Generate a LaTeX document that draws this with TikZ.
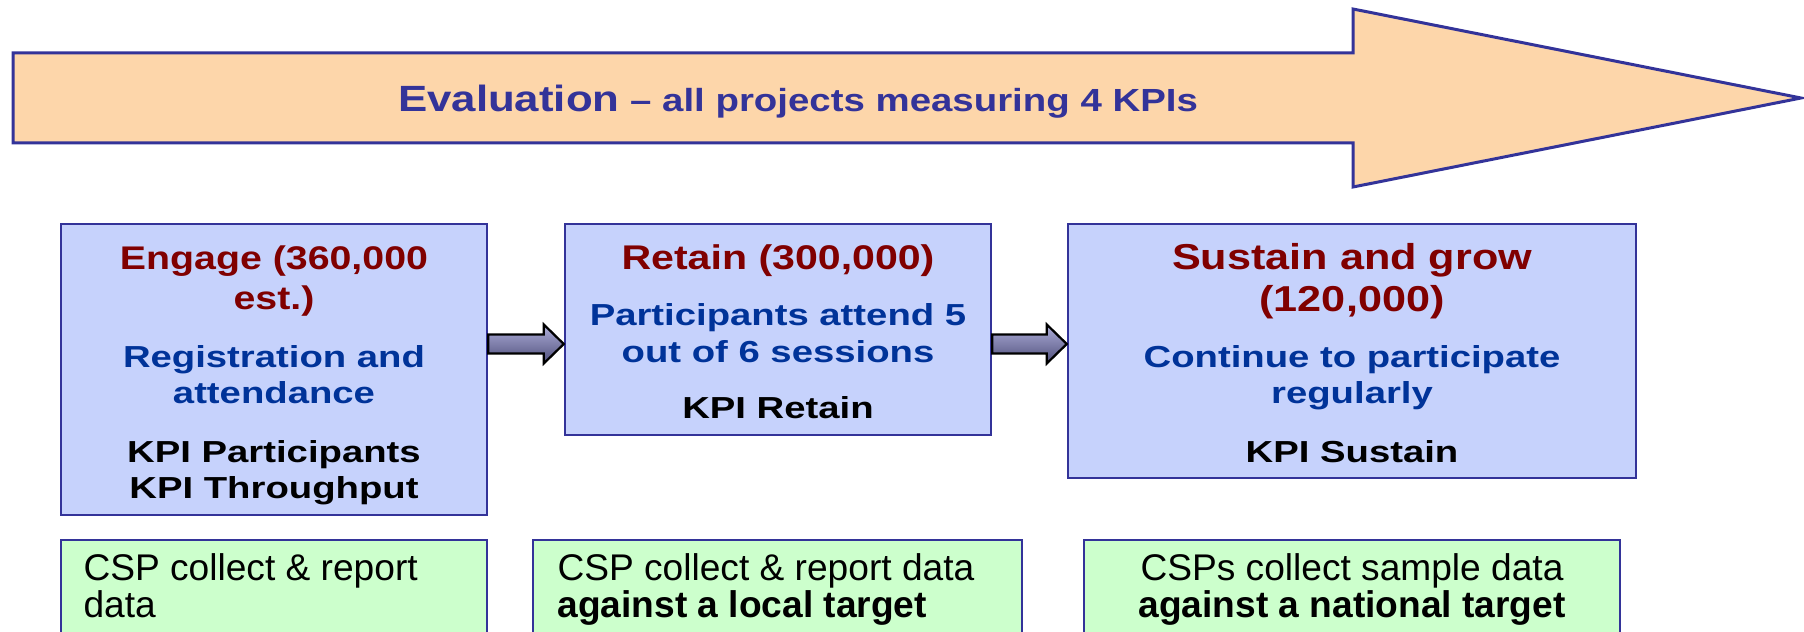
\documentclass[tikz,border=0pt]{standalone}
\usepackage{fontspec}
\setmainfont{Liberation Sans}
\newfontfamily\wideb[FakeStretch=1.2]{Liberation Sans}
\newfontfamily\widec[FakeStretch=1.26]{Liberation Sans}
\usetikzlibrary{calc}
\definecolor{navy}{RGB}{51,51,153}
\definecolor{dred}{RGB}{128,0,0}
\definecolor{dblue}{RGB}{0,51,153}
\definecolor{peach}{RGB}{253,214,170}
\definecolor{lblue}{RGB}{198,210,252}
\definecolor{lgreen}{RGB}{204,255,204}
\definecolor{arrtop}{RGB}{175,175,218}
\definecolor{arrbot}{RGB}{78,78,122}
\begin{document}
\begin{tikzpicture}[x=0.4pt,y=-0.4pt,
  bigarrow/.style={draw=navy, line width=1.2pt, fill=peach, line join=miter},
  bluebox/.style={draw=navy, line width=1pt, fill=lblue, rectangle, inner sep=0pt},
  greenbox/.style={draw=navy, line width=1pt, fill=lgreen, rectangle, inner sep=0pt},
  flowarrow/.style={draw=black, line width=0.9pt, top color=arrtop, bottom color=arrbot, line join=miter},
  txt/.style={anchor=base, inner sep=0pt},
  redA/.style={txt, text=dred, font=\wideb\bfseries\fontsize{13.1pt}{13.1pt}\selectfont},
  redB/.style={txt, text=dred, font=\wideb\bfseries\fontsize{13.7pt}{13.7pt}\selectfont},
  redC/.style={txt, text=dred, font=\wideb\bfseries\fontsize{14.4pt}{14.4pt}\selectfont},
  bluet/.style={txt, text=dblue, font=\widec\bfseries\fontsize{12.15pt}{12.15pt}\selectfont},
  kpit/.style={txt, text=black, font=\widec\bfseries\fontsize{12.15pt}{12.15pt}\selectfont},
  gtext/.style={txt, text=black, font=\fontsize{14.85pt}{14.85pt}\selectfont},
  gbold/.style={gtext, font=\bfseries\fontsize{14.85pt}{14.85pt}\selectfont}
]
\useasboundingbox (0,0) rectangle (1804,632);
\clip (0,0) rectangle (1804,632);

% big evaluation arrow
\draw[bigarrow] (13,53) -- (1353,53) -- (1353,9) -- (1801,98) -- (1353,187) -- (1353,143) -- (13,143) -- cycle;
\node[txt, text=navy] (title) at (798,112)
  {{\wideb\bfseries\fontsize{14.6pt}{14.6pt}\selectfont Evaluation}{\wideb\bfseries\fontsize{12.8pt}{12.8pt}\selectfont{} – all projects measuring 4 KPIs}};

% stage boxes
\node[bluebox, minimum width=170.4pt, minimum height=116.4pt] (b1) at (274,369.5) {};
\node[bluebox, minimum width=170.4pt, minimum height=84.4pt] (b2) at (778,329.5) {};
\node[bluebox, minimum width=227.2pt, minimum height=101.6pt] (b3) at (1352,351) {};

% box 1 text
\node[redA] (b1t1) at (274,269) {Engage (360,000};
\node[redA] (b1t2) at (274,310) {est.)};
\node[bluet] (b1t3) at (274,367) {Registration and};
\node[bluet] (b1t4) at (274,403) {attendance};
\node[kpit] (b1t5) at (274,462) {KPI Participants};
\node[kpit] (b1t6) at (274,498) {KPI Throughput};

% box 2 text
\node[redB] (b2t1) at (778,269) {Retain (300,000)};
\node[bluet] (b2t2) at (778,325) {Participants attend 5};
\node[bluet] (b2t3) at (778,362) {out of 6 sessions};
\node[kpit] (b2t4) at (778,418) {KPI Retain};

% box 3 text
\node[redC] (b3t1) at (1352,269) {Sustain and grow};
\node[redC] (b3t2) at (1352,312) {(120,000)};
\node[bluet] (b3t3) at (1352,367) {Continue to participate};
\node[bluet] (b3t4) at (1352,403) {regularly};
\node[kpit] (b3t5) at (1352,462) {KPI Sustain};

% connecting arrows
\coordinate (ylev) at (0,344);
\coordinate (a1s) at (b1.east |- ylev);
\coordinate (a1e) at (b2.west |- ylev);
\coordinate (a2s) at (b2.east |- ylev);
\coordinate (a2e) at (b3.west |- ylev);
\draw[flowarrow] ($(a1s)+(0,-9.5)$) -- ($(a1e)+(-20,-9.5)$) -- ($(a1e)+(-20,-19.5)$) -- (a1e)
  -- ($(a1e)+(-20,19.5)$) -- ($(a1e)+(-20,9.5)$) -- ($(a1s)+(0,9.5)$) -- cycle;
\draw[flowarrow] ($(a2s)+(0,-9.5)$) -- ($(a2e)+(-20,-9.5)$) -- ($(a2e)+(-20,-19.5)$) -- (a2e)
  -- ($(a2e)+(-20,19.5)$) -- ($(a2e)+(-20,9.5)$) -- ($(a2s)+(0,9.5)$) -- cycle;

% data collection boxes
\node[greenbox, minimum width=170.4pt, minimum height=44pt] (g1) at (274,595) {};
\node[greenbox, minimum width=195.6pt, minimum height=44pt] (g2) at (777.5,595) {};
\node[greenbox, minimum width=214.4pt, minimum height=44pt] (g3) at (1352,595) {};

\node[gtext, anchor=base west] (g1a) at (83,580) {CSP collect \& report};
\node[gtext, anchor=base west] (g1b) at (83,617) {data};
\node[gtext, anchor=base west] (g2a) at (557,580) {CSP collect \& report data};
\node[gbold, anchor=base west] (g2b) at (557,617) {against a local target};
\node[gtext] (g3a) at (1352,580) {CSPs collect sample data};
\node[gbold] (g3b) at (1352,617) {against a national target};
\end{tikzpicture}
\end{document}
